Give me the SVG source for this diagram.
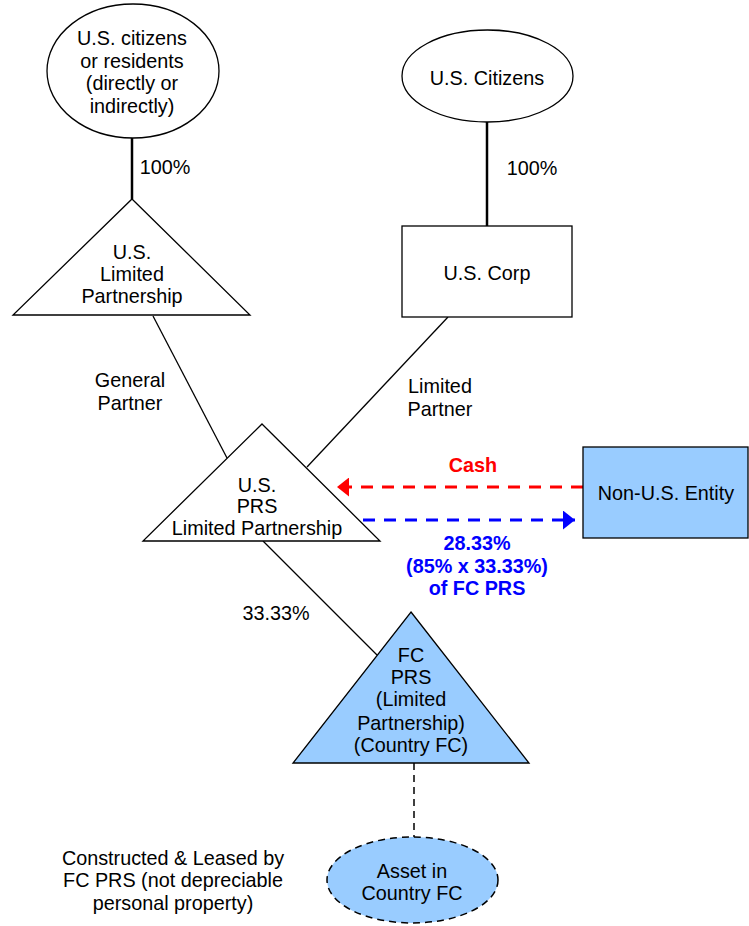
<svg xmlns="http://www.w3.org/2000/svg" width="749" height="926" viewBox="0 0 749 926">
<style>
text{font-family:"Liberation Sans",Arial,sans-serif;font-size:19.8px;fill:#000;text-anchor:middle}
.shape{stroke:#000;stroke-width:1.3;fill:#fff}
.blue{fill:#99CCFF}
.conn{stroke:#000;stroke-width:1.3;fill:none}
.thick{stroke:#000;stroke-width:2.5;fill:none}
.dash{stroke:#000;stroke-width:1.5;fill:none;stroke-dasharray:7 5}
.b{font-weight:bold}
</style>
<defs>
<marker id="ar" markerWidth="12" markerHeight="19" refX="12" refY="9.5" orient="auto" markerUnits="userSpaceOnUse"><path d="M0,0 L12,9.5 L0,19 Z" fill="#f00"/></marker>
<marker id="ab" markerWidth="12" markerHeight="19" refX="12" refY="9.5" orient="auto" markerUnits="userSpaceOnUse"><path d="M0,0 L12,9.5 L0,19 Z" fill="#00f"/></marker>
</defs>
<g id="connectors">
<line class="thick" x1="132" y1="138" x2="132" y2="199"/>
<line class="thick" x1="487" y1="122" x2="487" y2="226"/>
<line class="conn" x1="153" y1="316" x2="227" y2="458"/>
<line class="conn" x1="448" y1="317" x2="307" y2="467"/>
<line class="conn" x1="263" y1="541" x2="377" y2="655"/>
<line class="dash" x1="414" y1="763" x2="414" y2="837"/>
<line x1="583" y1="487" x2="337" y2="487" stroke="#f00" stroke-width="3" stroke-dasharray="12 9" marker-end="url(#ar)"/>
<line x1="363" y1="520" x2="575" y2="520" stroke="#00f" stroke-width="3" stroke-dasharray="12 9" marker-end="url(#ab)"/>
<text x="165" y="174">100%</text>
<text x="532" y="175">100%</text>
<text x="130" y="387">General</text>
<text x="130" y="410">Partner</text>
<text x="440" y="393">Limited</text>
<text x="440" y="416">Partner</text>
<text x="276" y="620">33.33%</text>
<text x="473" y="472" class="b" style="fill:#f00">Cash</text>
<text x="477" y="550" class="b" style="fill:#00f">28.33%</text>
<text x="477" y="573" class="b" style="fill:#00f">(85% x 33.33%)</text>
<text x="477" y="595" class="b" style="fill:#00f">of FC PRS</text>
</g>
<g id="us-citizens-residents">
<ellipse class="shape" cx="133" cy="71" rx="86" ry="67"/>
<text x="132" y="45">U.S. citizens</text>
<text x="132" y="68">or residents</text>
<text x="132" y="90">(directly or</text>
<text x="132" y="113">indirectly)</text>
</g>
<g id="us-citizens">
<ellipse class="shape" cx="487.5" cy="76" rx="85.5" ry="46"/>
<text x="487" y="85">U.S. Citizens</text>
</g>
<g id="us-lp">
<polygon class="shape" points="132,199 250,315 13,315"/>
<text x="132" y="259">U.S.</text>
<text x="132" y="281">Limited</text>
<text x="132" y="303">Partnership</text>
</g>
<g id="us-corp">
<rect class="shape" x="402" y="226" width="170" height="91"/>
<text x="487" y="280">U.S. Corp</text>
</g>
<g id="us-prs">
<polygon class="shape" points="262,424 380,541 143,541"/>
<text x="257" y="492">U.S.</text>
<text x="257" y="513">PRS</text>
<text x="257" y="535">Limited Partnership</text>
</g>
<g id="non-us-entity">
<rect class="shape blue" x="583" y="447" width="165" height="91"/>
<text x="666" y="500">Non-U.S. Entity</text>
</g>
<g id="fc-prs">
<polygon class="shape blue" points="411,612 529,763 293,763"/>
<text x="411" y="662">FC</text>
<text x="411" y="684">PRS</text>
<text x="411" y="706">(Limited</text>
<text x="411" y="730">Partnership)</text>
<text x="411" y="752">(Country FC)</text>
</g>
<g id="asset">
<ellipse class="blue" cx="412.5" cy="880" rx="85.5" ry="43" stroke="#000" stroke-width="1.5" stroke-dasharray="7 5"/>
<text x="412" y="878">Asset in</text>
<text x="412" y="900">Country FC</text>
</g>
<g id="note">
<text x="173" y="865">Constructed &amp; Leased by</text>
<text x="173" y="887">FC PRS (not depreciable</text>
<text x="173" y="910">personal property)</text>
</g>
</svg>
